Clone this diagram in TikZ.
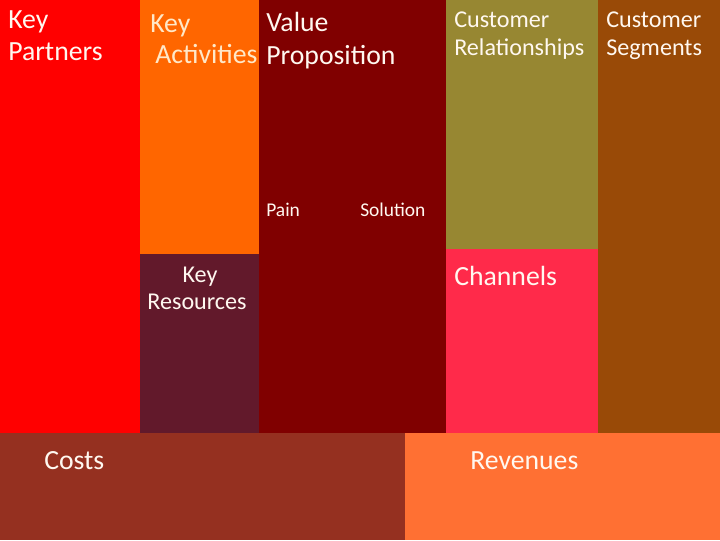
\documentclass[tikz,border=0pt]{standalone}
\usepackage{fontspec}
\setmainfont{Carlito}
\definecolor{cPartners}{HTML}{FF0000}
\definecolor{cActivities}{HTML}{FF6600}
\definecolor{cResources}{HTML}{62192B}
\definecolor{cValue}{HTML}{800000}
\definecolor{cRelations}{HTML}{978732}
\definecolor{cChannels}{HTML}{FF2A4A}
\definecolor{cSegments}{HTML}{994A07}
\definecolor{cCosts}{HTML}{953020}
\definecolor{cRevenues}{HTML}{FF7033}
\definecolor{cText}{HTML}{FFF8F0}
\definecolor{cCream}{HTML}{FFE8C8}
\tikzset{
  block/.style={draw=none},
  big/.style={font=\fontsize{20.8}{25}\selectfont, text=cText, inner sep=0pt, align=left},
  mid/.style={font=\fontsize{18.1}{21}\selectfont, text=cText, inner sep=0pt, align=left},
  small/.style={font=\fontsize{14.6}{17}\selectfont, text=cText, inner sep=0pt}
}
\begin{document}
\begin{tikzpicture}[x=0.75pt,y=-0.75pt]
\useasboundingbox (0,0) rectangle (720,540);
% blocks
\fill[cPartners] (0,0) rectangle (140,433);
\fill[cActivities] (140,0) rectangle (259,254);
\fill[cResources] (140,254) rectangle (259,433);
\fill[cValue] (259,0) rectangle (446,433);
\fill[cRelations] (446,0) rectangle (598,249);
\fill[cChannels] (446,249) rectangle (598,433);
\fill[cSegments] (598,0) rectangle (720,433);
\fill[cCosts] (0,433) rectangle (405,540);
\fill[cRevenues] (405,433) rectangle (720,540);
% labels
\node[big, anchor=base west] (kp1) at (8,28) {Key};
\node[big, anchor=base west] (kp2) at (8,60) {Partners};
\node[big, anchor=base west, text=cCream] (ka1) at (150,32) {Key};
\node[big, anchor=base west, text=cCream] (ka2) at (155,63) {Activities};
\node[big, anchor=base west] (vp1) at (266,31) {Value};
\node[big, anchor=base west] (vp2) at (266,64) {Proposition};
\node[small, anchor=base west] (pain) at (266,216) {Pain};
\node[small, anchor=base west] (sol) at (360,216) {Solution};
\node[mid, anchor=base west] (cr1) at (454,27) {Customer};
\node[mid, anchor=base west] (cr2) at (454,55) {Relationships};
\node[mid, anchor=base west] (cs1) at (606,27) {Customer};
\node[mid, anchor=base west] (cs2) at (606,55) {Segments};
\node[mid, anchor=base] (kr1) at (200,282) {Key};
\node[mid, anchor=base] (kr2) at (197,309) {Resources};
\node[big, anchor=base west] (ch) at (454,285) {Channels};
\node[big, anchor=base west] (costs) at (44,469) {Costs};
\node[big, anchor=base west] (rev) at (470,469) {Revenues};
\end{tikzpicture}
\end{document}
